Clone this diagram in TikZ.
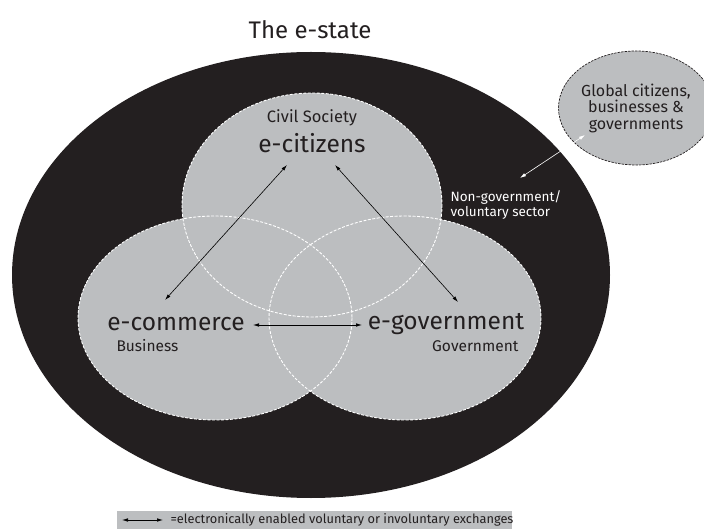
\documentclass[tikz,border=0pt]{standalone}
\usepackage{fontspec}
\setmainfont{Fira Sans}
\usetikzlibrary{arrows.meta}
\usetikzlibrary{shapes.geometric}
\usetikzlibrary{positioning}
\definecolor{inkblack}{RGB}{35,31,32}
\definecolor{lightgrey}{RGB}{188,190,192}

\tikzset{
  sector/.style={ellipse, fill=lightgrey, inner sep=0pt},
  rim/.style={draw=white, line width=0.9pt, dash pattern=on 2.5pt off 2pt},
  exch/.style={line width=0.6pt, {Latex[length=6pt, width=3.5pt]}-{Latex[length=6pt, width=3.5pt]}},
  bigtxt/.style={font=\fontsize{24.5}{28}\selectfont},
  smalltxt/.style={font=\fontsize{15.5}{15}\selectfont},
}

\begin{document}
\begin{tikzpicture}[x=1pt,y=-1pt,line cap=round,line join=round,text=inkblack]
\useasboundingbox (0,0) rectangle (704,529);

% the state as a whole
\node[ellipse, fill=inkblack, inner sep=0pt, minimum width=598, minimum height=446] (state) at (311,275) {};
\node[font=\fontsize{24}{28}\selectfont] (title) at (310,30) {The e-state};

% the three sectors
\node[sector, minimum width=260, minimum height=224] (citizens) at (312,205) {};
\node[sector, minimum width=274, minimum height=204] (commerce) at (215,318) {};
\node[sector, minimum width=272, minimum height=204] (government) at (405,318) {};
\draw[rim] (citizens.center) ellipse [x radius=130, y radius=112];
\draw[rim] (commerce.center) ellipse [x radius=137, y radius=102];
\draw[rim] (government.center) ellipse [x radius=136, y radius=102];

% outside the state
\node[sector, draw=inkblack, line width=0.7pt, dash pattern=on 2pt off 1.5pt, minimum width=136, minimum height=114,
      align=center, font=\fontsize{16}{16.5}\selectfont] (global) at (636,108) {Global citizens,\\businesses \&\\governments};

% labels
\node[font=\fontsize{16.5}{18}\selectfont] (civil) at (312,118) {Civil Society};
\node[bigtxt] (ecit) at (312,143) {e-citizens};
\node[bigtxt] (ecom) at (176,324) {e-commerce};
\node[smalltxt, anchor=west] (business) at (113,346) {Business};
\node[bigtxt] (egov) at (446,324) {e-government};
\node[smalltxt, anchor=east] (govt) at (522,346) {Government};
\node[font=\fontsize{13.5}{15}\selectfont, text=white, align=left, anchor=west] (ngo) at (447,205) {Non-government/\\voluntary sector};

% exchanges
\coordinate (citL) at (287,165);
\coordinate (comT) at (165,300);
\coordinate (citR) at (335,165);
\coordinate (govT) at (458,302);
\coordinate (comR) at (253,325);
\coordinate (govL) at (362,325);
\coordinate (ngoT) at (520,178);
\coordinate (glbB) at (585,135);
\draw[exch] (citL) -- (comT);
\draw[exch] (citR) -- (govT);
\draw[exch] (comR) -- (govL);
\draw[exch, white] (ngoT) -- (glbB);

% key
\fill[lightgrey] (117,511) rectangle (512,529);
\coordinate (keyL) at (122,520);
\coordinate (keyR) at (163,520);
\draw[exch] (keyL) -- (keyR);
\node[anchor=west, font=\fontsize{12.8}{14}\selectfont] (key) at (167,519.5) {=electronically enabled voluntary or involuntary exchanges};
\end{tikzpicture}
\end{document}
